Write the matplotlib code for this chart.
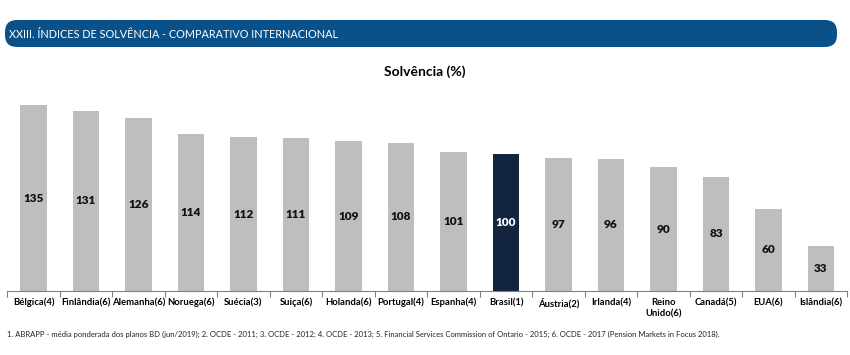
import matplotlib.pyplot as plt
from matplotlib.patches import FancyBboxPatch

countries = ["Bélgica(4)", "Finlândia(6)", "Alemanha(6)", "Noruega(6)", "Suécia(3)",
             "Suiça(6)", "Holanda(6)", "Portugal(4)", "Espanha(4)", "Brasil(1)",
             "Áustria(2)", "Irlanda(4)", "Reino\nUnido(6)", "Canadá(5)", "EUA(6)",
             "Islândia(6)"]
solvencia = [135, 131, 126, 114, 112, 111, 109, 108, 101, 100, 97, 96, 90, 83, 60, 33]
destaque = "Brasil(1)"

header = "XXIII. ÍNDICES DE SOLVÊNCIA - COMPARATIVO INTERNACIONAL"
titulo = "Solvência (%)"
nota = ("1. ABRAPP - média ponderada dos planos BD (jun/2019); 2. OCDE - 2011; 3. OCDE - 2012; "
        "4. OCDE - 2013; 5. Financial Services Commission of Ontario - 2015; 6. OCDE - 2017 "
        "(Pension Markets in Focus 2018).")

plt.rcParams['font.family'] = ['Lato', 'DejaVu Sans']

W, H = 850, 355
fig = plt.figure(figsize=(W / 100, H / 100), dpi=100)

# banner, title and footnote in pixel coords
bx = fig.add_axes([0, 0, 1, 1])
bx.set_xlim(0, W)
bx.set_ylim(H, 0)
bx.axis('off')
bx.add_patch(FancyBboxPatch((5, 20), 832, 27,
                            boxstyle="round,pad=0,rounding_size=12",
                            fc="#0B5189", ec="none"))
bx.text(9, 34, header, color="white", fontsize=7.8, va="center", ha="left")
bx.text(425, 72, titulo, fontsize=10, fontweight="bold", ha="center", va="center")
bx.text(7, 334, nota, fontsize=5.5, ha="left", va="center", color="#222222")

# chart
ymax = 142
px_per = 1.375
bottom = 291
top = bottom - ymax * px_per
left, right = 7.25, 847.25
ax = fig.add_axes([left / W, 1 - bottom / H, (right - left) / W, (bottom - top) / H])

x = list(range(len(countries)))
colors = ["#13243F" if c == destaque else "#BFBEBE" for c in countries]
ax.bar(x, solvencia, width=0.51, color=colors)
for xi, v, c in zip(x, solvencia, countries):
    ax.text(xi, v / 2, str(v), ha="center", va="center", fontsize=8.5, fontweight="heavy",
            color="white" if c == destaque else "#111111")

ax.set_xlim(-0.5, len(countries) - 0.5)
ax.set_ylim(0, ymax)
for s in ["top", "right", "left"]:
    ax.spines[s].set_visible(False)
ax.spines["bottom"].set_color("#808080")
ax.spines["bottom"].set_linewidth(0.8)
ax.set_yticks([])
ax.set_xticks(x)
ax.set_xticklabels(countries, fontsize=6.8, fontweight="bold", linespacing=1.3)
ax.tick_params(axis="x", which="major", length=0, pad=5)
ax.set_xticks([i - 0.5 for i in range(len(countries) + 1)], minor=True)
ax.tick_params(axis="x", which="minor", length=4, color="#808080", width=0.8)

fig.savefig("out.png", dpi=100)
